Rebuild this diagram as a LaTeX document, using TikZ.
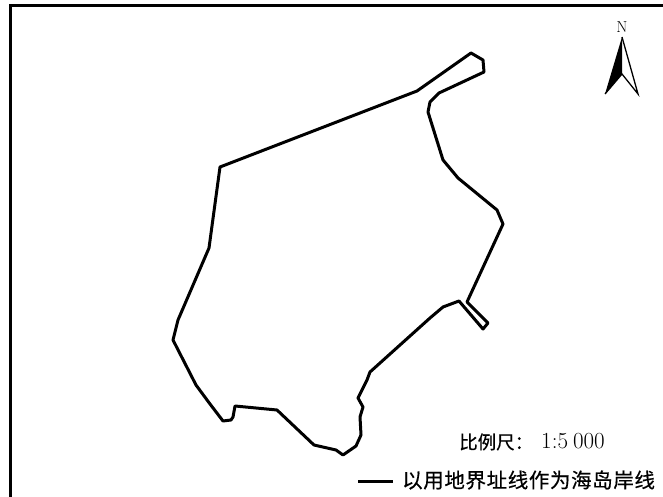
\documentclass[tikz,border=0pt]{standalone}
\usepackage{fontspec}
\setmainfont{Latin Modern Roman}
\newfontfamily\cjk[FakeBold=0.5]{Noto Sans CJK SC}
\tikzset{
  frameline/.style={line width=3pt,black},
  coast/.style={line width=3pt,black,line join=round,line cap=round},
  label/.style={inner sep=0pt,anchor=center,text=black}
}
\begin{document}
\begin{tikzpicture}[x=1pt,y=-1pt]
\useasboundingbox (0,0) rectangle (663,497);
\draw[frameline] (10,497) -- (10,6) -- (663,6);
\draw[coast] (467,302) -- (488,323) -- (483,329) -- (459,301) -- (443,307) -- (430,318) -- (370,372) -- (367,380) -- (358,398) -- (363,407) -- (360,417) -- (361,435) -- (356,446) -- (343,455) -- (336,450) -- (314,445) -- (277,410) -- (235,406) -- (233,417) -- (231,420) -- (223,421) -- (210,404) -- (196,385) -- (173,340) -- (178,320) -- (209,248) -- (220,167) -- (417,91) -- (471,53) -- (483,60) -- (484,72) -- (439,93) -- (430,102) -- (428,112) -- (443,160) -- (458,178) -- (497,210) -- (503,224) -- (467,302);
\node[label,font=\fontsize{16}{16}\selectfont] (north) at (622,27) {N};
\coordinate (apex) at (622,37);
\coordinate (lft) at (605,94);
\coordinate (mid) at (622,74);
\coordinate (rgt) at (638,94);
\fill[black] (apex) -- (lft) -- (mid) -- cycle;
\draw[line width=1.3pt,line join=miter] (apex) -- (rgt) -- (mid) -- (lft);
\node[label,anchor=west] (scale) at (459,442) {\cjk\fontsize{18.5}{18.5}\selectfont 比例尺：\hspace{8pt}{\fontspec{Latin Modern Roman}\fontsize{23}{23}\selectfont 1:5\hspace{5pt}000}};
\coordinate (la) at (358,481);
\coordinate (lb) at (393,481);
\draw[line width=3pt] (la) -- (lb);
\node[label,anchor=west] (legend) at (402,480) {\cjk\fontsize{20.5}{20.5}\selectfont\addfontfeature{LetterSpace=3}以用地界址线作为海岛岸线};
\end{tikzpicture}
\end{document}
